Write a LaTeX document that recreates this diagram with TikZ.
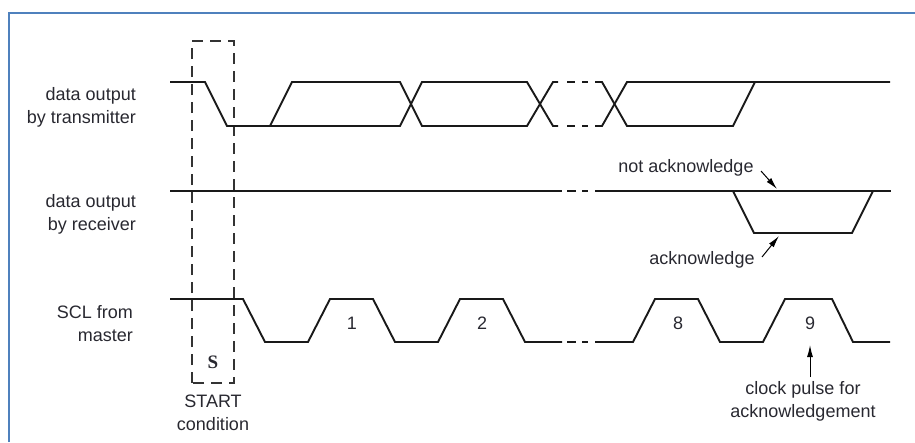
\documentclass[tikz,border=0pt]{standalone}
\usepackage{fontspec}
\setmainfont{Liberation Sans}
\newfontfamily\serifbold{Liberation Serif}
\usetikzlibrary{arrows.meta}
\definecolor{framecol}{RGB}{79,129,189}
\definecolor{txtcol}{RGB}{40,40,48}
\tikzset{
  sig/.style={line width=1.9pt, line join=miter, black!90},
  sigdash/.style={line width=1.9pt, black!90},
  startbox/.style={line width=1.3pt, black!80, dash pattern=on 11pt off 7pt},
  lbl/.style={font=\fontsize{18}{23}\selectfont, text=txtcol, inner sep=0pt},
  ptr/.style={line width=1pt, black, -{Latex[length=12pt,width=6pt]}},
}
\begin{document}
\begin{tikzpicture}[x=1pt,y=-1pt]
\useasboundingbox (0,0) rectangle (915,442);
% frame
\draw[framecol, line width=2pt] (9,442) -- (9,13) -- (915,13);

% START box
\draw[startbox] (192,383) -- (192,41) -- (234,41) -- (234,383) -- cycle;

% transmitter
\draw[sig] (170,82) -- (205,82) -- (227,126) -- (400,126) -- (422,82) -- (527,82) -- (553,126) -- (558,126);
\draw[sig] (270,126) -- (292,82) -- (400,82) -- (422,126) -- (527,126) -- (553,82) -- (558,82);
\foreach \y in {82,126} {
  \draw[sigdash] (567,\y) -- (575,\y);
  \draw[sigdash] (582,\y) -- (588,\y);
}
\draw[sig] (595,82) -- (602,82) -- (627,126) -- (733,126) -- (755,82);
\draw[sig] (595,126) -- (602,126) -- (627,82) -- (890,82);

% receiver
\draw[sig] (170,191) -- (562,191);
\draw[sigdash] (567,191) -- (576,191);
\draw[sigdash] (582,191) -- (588,191);
\draw[sig] (595,191) -- (891,191);
\draw[sig] (733,191) -- (754,233) -- (852,233) -- (873,191);

% SCL
\draw[sig] (170,299) -- (243,299) -- (265,342) -- (308,342) -- (330,299) -- (373,299) -- (395,342) -- (438,342) -- (460,299) -- (503,299) -- (525,342) -- (562,342);
\draw[sigdash] (567,342) -- (576,342);
\draw[sigdash] (582,342) -- (588,342);
\draw[sig] (595,342) -- (633,342) -- (655,299) -- (698,299) -- (720,342) -- (763,342) -- (785,299) -- (832,299) -- (853,342) -- (890,342);

% left labels
\node[lbl, anchor=east, align=right] (ltx) at (136,107.5) {data output\\by transmitter};
\node[lbl, anchor=east, align=right] (lrx) at (136,214.5) {data output\\by receiver};
\node[lbl, anchor=east, align=right] (lscl) at (133,323.5) {SCL from\\master};

% pulse numbers
\node[lbl] (n1) at (352,323) {1};
\node[lbl] (n2) at (482,323) {2};
\node[lbl] (n8) at (678,323) {8};
\node[lbl] (n9) at (810,323) {9};

% S and START
\node[inner sep=0pt, text=txtcol] (s) at (213,362) {\serifbold\bfseries\fontsize{19}{19}\selectfont S};
\node[lbl, align=center] (start) at (213,412.5) {START\\condition};

% ack labels
\node[lbl] (nack) at (686,168) {not acknowledge};
\node[lbl] (ack) at (702,260) {acknowledge};
\coordinate (nackT) at (761,171);
\coordinate (nackH) at (777,189);
\coordinate (ackT) at (762,257);
\coordinate (ackH) at (779,236);
\draw[ptr] (nackT) -- (nackH);
\draw[ptr] (ackT) -- (ackH);

% clock pulse label
\node[lbl, align=center] (clk) at (803,401) {clock pulse for\\acknowledgement};
\coordinate (clkT) at (810,377);
\coordinate (clkH) at (810,345);
\draw[ptr] (clkT) -- (clkH);
\end{tikzpicture}
\end{document}
